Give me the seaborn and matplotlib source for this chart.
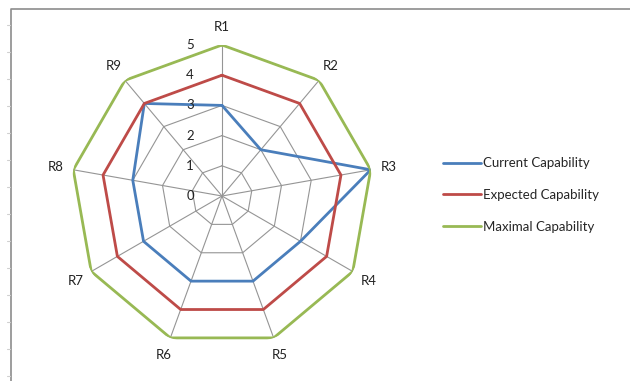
import numpy as np
import pandas as pd
import matplotlib
matplotlib.use('Agg')
import matplotlib.pyplot as plt
import seaborn as sns

# datos del grafico radar
categorias = ['R1', 'R2', 'R3', 'R4', 'R5', 'R6', 'R7', 'R8', 'R9']
actual = [3, 2, 5, 3, 3, 3, 3, 3, 4]
esperada = [4, 4, 4, 4, 4, 4, 4, 4, 4]
maxima = [5, 5, 5, 5, 5, 5, 5, 5, 5]
niveles = [0, 1, 2, 3, 4, 5]
series = ['Current Capability', 'Expected Capability', 'Maximal Capability']
colores = ['#4A7EBB', '#BE4B48', '#98B954']

sns.set_theme(style='white')
plt.rcParams['font.family'] = ['Lato', 'DejaVu Sans']

n = len(categorias)
angulos = np.linspace(0, 2 * np.pi, n, endpoint=False)
ang_cerrado = np.append(angulos, 2 * np.pi)

fig = plt.figure(figsize=(6.3, 3.81), dpi=100)
fig.patch.set_facecolor('white')

# borde del area del grafico (recortado como en la captura)
borde = plt.Line2D([11 / 630, 11 / 630, 1.0], [0.0, 1 - 9 / 381, 1 - 9 / 381],
                   transform=fig.transFigure, color='#8c8c8c', lw=1.2)
fig.add_artist(borde)
for yy in np.arange(25, 381, 27):
    fig.add_artist(plt.Line2D([7 / 630, 10 / 630], [1 - yy / 381] * 2,
                              transform=fig.transFigure, color='#d0d0d0', lw=0.8))

ax = fig.add_axes([71 / 630, 34 / 381, 302 / 630, 302 / 381], projection='polar')
ax.set_theta_zero_location('N')
ax.set_theta_direction(-1)
ax.set_ylim(0, 5)
ax.grid(False)
ax.spines['polar'].set_visible(False)
ax.set_xticks([])
ax.set_yticks([])
ax.patch.set_alpha(0)

# telaraña
for nv in niveles[1:]:
    ax.plot(ang_cerrado, [nv] * (n + 1), color='#959595', lw=0.8, zorder=1)
for a in angulos:
    ax.plot([a, a], [0, 5], color='#959595', lw=0.8, zorder=1)

filas = []
for nombre, vals in zip(series, [actual, esperada, maxima]):
    for i, (a, v) in enumerate(zip(ang_cerrado, vals + vals[:1])):
        filas.append({'serie': nombre, 'angulo': a, 'valor': v, 'orden': i})
df = pd.DataFrame(filas)

for nombre, col in zip(series, colores):
    sub = df[df['serie'] == nombre]
    sns.lineplot(data=sub, x='angulo', y='valor', ax=ax, sort=False,
                 estimator=None, color=col, lw=2.0, label=nombre, zorder=3)

ax.set_xlabel('')
ax.set_ylabel('')

# etiquetas de categorias
for a, c in zip(angulos, categorias):
    ax.text(a, 5.6, c, ha='center', va='center', fontsize=9.5, color='#222222')

# etiquetas de escala sobre el eje R1
for nv in niveles:
    ax.annotate(str(nv), xy=(0, nv), xytext=(-23, 0), textcoords='offset points',
                ha='center', va='center', fontsize=9.5, color='#222222')

ax.legend_.remove()
h, l = ax.get_legend_handles_labels()
fig.legend(h, l, loc='center left', bbox_to_anchor=(431 / 630, 1 - 195 / 381),
           frameon=False, fontsize=9.5, handlelength=2.9, handletextpad=0.12,
           labelspacing=1.5)

fig.savefig('out.png', dpi=100, facecolor='white')
